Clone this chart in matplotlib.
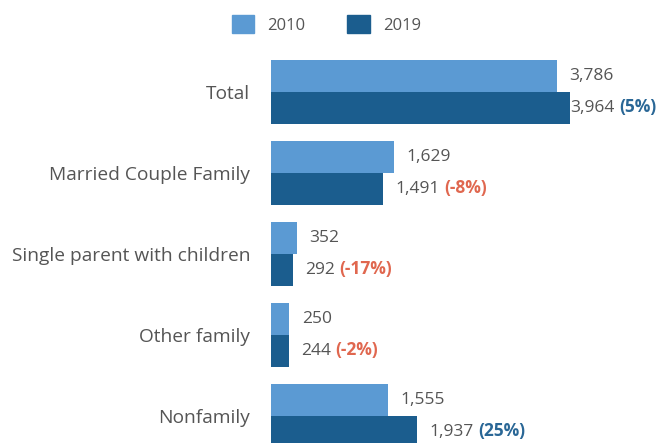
import matplotlib.pyplot as plt
from matplotlib.patches import Patch

# Households by type, thousands
categories = ["Total", "Married Couple Family", "Single parent with children",
              "Other family", "Nonfamily"]
households_2010 = [3786, 1629, 352, 250, 1555]
households_2019 = [3964, 1491, 292, 244, 1937]
pct_change = [5, -8, -17, -2, 25]

light_blue = "#5b9ad3"
dark_blue = "#1b5d8e"
pos_color = "#2a6796"
neg_color = "#e0674f"
text_gray = "#555555"

plt.rcParams["font.family"] = ["Open Sans", "DejaVu Sans"]

fig = plt.figure(figsize=(6.66, 4.43), dpi=100)
ax = fig.add_axes([270.5 / 666, 0, 1 - 270.5 / 666, 1])

pos = list(range(len(categories)))
h = 0.395
ax.barh([p - h / 2 for p in pos], households_2010, height=h, color=light_blue)
ax.barh([p + h / 2 for p in pos], households_2019, height=h, color=dark_blue)

ax.set_xlim(0, 5230)
ax.set_ylim(4.333, -1.136)
ax.set_yticks(pos)
ax.set_yticklabels(categories, fontsize=13.8, color=text_gray)
ax.tick_params(axis="y", length=0, pad=14.5)
ax.set_xticks([])
for s in ax.spines.values():
    s.set_visible(False)

pairs = []
for i, p in enumerate(pos):
    ax.annotate(f"{households_2010[i]:,}", xy=(households_2010[i], p - h / 2),
                xytext=(9, 0), textcoords="offset points", va="center",
                fontsize=12.5, color=text_gray)
    t = ax.annotate(f"{households_2019[i]:,}", xy=(households_2019[i], p + h / 2),
                    xytext=(9, 0), textcoords="offset points", va="center",
                    fontsize=12.5, color=text_gray)
    c = pos_color if pct_change[i] >= 0 else neg_color
    pc = ax.annotate(f"({pct_change[i]}%)", xy=(1, 0), xycoords=t,
                     xytext=(3, 0), textcoords="offset points", va="bottom",
                     fontsize=12.5, color=c, fontweight="bold")
    pairs.append((t, pc))

# pull labels back in when they would run past the right edge
fig.canvas.draw()
renderer = fig.canvas.get_renderer()
right = fig.bbox.width - 10
for t, pc in pairs:
    over = pc.get_window_extent(renderer).x1 - right
    if over > 0:
        t.set_position((9 - over * 72 / fig.dpi, 0))

handles = [Patch(color=light_blue), Patch(color=dark_blue)]
fig.legend(handles, ["2010", "2019"], loc="center", bbox_to_anchor=(0.49, 0.945),
           ncol=2, frameon=False, fontsize=12, labelcolor=text_gray,
           handlelength=1.35, handleheight=1.25, columnspacing=2.5, handletextpad=0.8)

fig.savefig("out.png", dpi=100)
